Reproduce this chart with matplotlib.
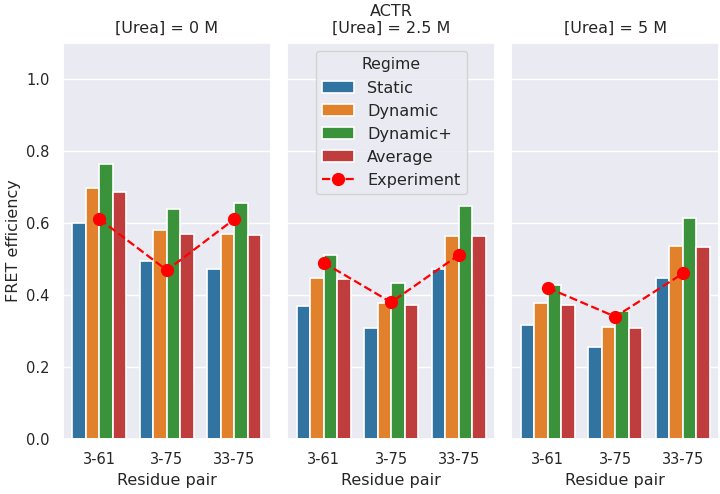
import numpy as np
import pandas as pd
import seaborn as sns
import matplotlib
matplotlib.use('Agg')
import matplotlib.pyplot as plt

pairs = ['3-61', '3-75', '33-75']
regimes = ['Static', 'Dynamic', 'Dynamic+', 'Average']
urea = ['0', '2.5', '5']

# FRET efficiency per regime, one list per urea concentration (pairs in order)
static = [[0.60, 0.494, 0.473], [0.371, 0.308, 0.472], [0.316, 0.257, 0.447]]
dynamic = [[0.696, 0.580, 0.571], [0.448, 0.377, 0.565], [0.378, 0.311, 0.536]]
dynamic_plus = [[0.763, 0.638, 0.656], [0.510, 0.434, 0.648], [0.427, 0.357, 0.615]]
average = [[0.687, 0.570, 0.567], [0.444, 0.372, 0.563], [0.373, 0.308, 0.533]]
experiment = [[0.611, 0.469, 0.611], [0.490, 0.380, 0.511], [0.420, 0.340, 0.460]]

rows = []
for k, u in enumerate(urea):
    for reg, vals in zip(regimes, [static, dynamic, dynamic_plus, average]):
        for j, p in enumerate(pairs):
            rows.append({'urea': u, 'Regime': reg, 'Residue pair': p, 'E': vals[k][j]})
df = pd.DataFrame(rows)

sns.set_theme(style='darkgrid', font_scale=0.96)
plt.rcParams['font.family'] = ['DejaVu Sans']
fig, axes = plt.subplots(1, 3, figsize=(7.2, 4.94), dpi=100, sharey=True)
fig.subplots_adjust(left=0.0875, right=0.999, top=0.913, bottom=0.111, wspace=0.079)

for k, ax in enumerate(axes):
    sub = df[df['urea'] == urea[k]]
    sns.barplot(data=sub, x='Residue pair', y='E', hue='Regime', hue_order=regimes,
                order=pairs, ax=ax, palette='tab10', edgecolor='white', linewidth=1.2)
    ax.plot(range(len(pairs)), experiment[k], 'o--', color='red', ms=8.5, lw=1.6,
            label='Experiment')
    title = '[Urea] = ' + urea[k] + ' M'
    if k == 1:
        title = 'ACTR\n' + title
    ax.set_title(title, pad=7)
    ax.set_xlim(-0.54, 2.54)
    ax.set_ylim(0, 1.1)
    ax.set_ylabel('FRET efficiency' if k == 0 else '')
    if k == 1:
        ax.legend(title='Regime', loc='upper center', fontsize=11.6, title_fontsize=11.3)
    else:
        ax.get_legend().remove()

plt.savefig('out.png', dpi=100)
